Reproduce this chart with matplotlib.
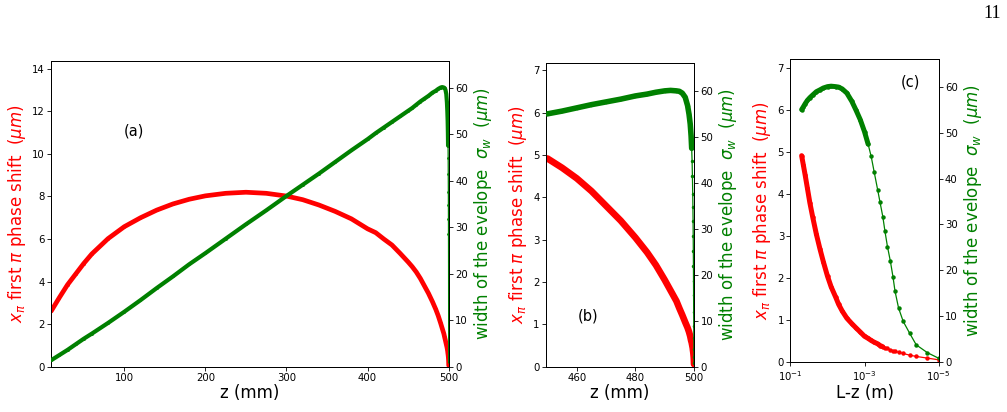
import numpy as np
import matplotlib
matplotlib.use("Agg")
import matplotlib.pyplot as plt

# ---- data ----
L_mm = 500.0
# distance to the end L - z, in mm
d_mm = [0.01, 0.02, 0.04, 0.06, 0.09, 0.12, 0.15, 0.17, 0.2, 0.24, 0.28, 0.32,
        0.38, 0.44, 0.55, 0.66, 0.8, 1.0, 1.3, 1.7, 2.2, 3.0, 4.0, 5.0, 6.0,
        8.0, 10, 13, 16, 20, 25, 30, 35, 40, 45, 50, 60, 70, 80, 90, 100, 120,
        140, 160, 180, 200, 225, 250, 275, 300, 320, 340, 360, 380, 400, 420,
        440, 450, 460, 470, 480, 490]
# x_pi, first pi phase shift (um)
x_pi = [0.06, 0.10, 0.14, 0.17, 0.21, 0.24, 0.26, 0.28, 0.30, 0.33, 0.35, 0.37,
        0.40, 0.44, 0.48, 0.52, 0.57, 0.62, 0.72, 0.82, 0.92, 1.05, 1.22, 1.38,
        1.55, 1.8, 2.05, 2.4, 2.7, 3.05, 3.45, 3.8, 4.15, 4.45, 4.7, 4.92, 5.33,
        5.72, 6.0, 6.3, 6.48, 6.95, 7.3, 7.6, 7.85, 8.02, 8.15, 8.2, 8.15, 8.03,
        7.87, 7.65, 7.36, 7.0, 6.58, 6.02, 5.3, 4.85, 4.35, 3.85, 3.25, 2.62]
# sigma_w, width of the envelope (um)
sigma_w = [0.9, 2.1, 3.8, 6.3, 8.9, 11.8, 15.5, 18.6, 22.0, 25.2, 28.5, 31.7,
           34.8, 37.5, 41.5, 44.8, 47.5, 50.2, 52.8, 54.9, 56.8, 58.6, 59.5,
           59.9, 60.0, 60.1, 60.0, 59.7, 59.3, 58.9, 58.2, 57.6, 57.0, 56.3,
           55.6, 55.0, 53.8, 52.6, 51.4, 50.2, 48.9, 46.5, 44.0, 41.5, 39.1,
           36.7, 33.6, 30.6, 27.5, 24.4, 22.0, 19.4, 16.9, 14.3, 11.8, 9.4, 7.1,
           6.0, 4.8, 3.6, 2.5, 1.4]

d = np.array(d_mm, dtype=float)
xp = np.array(x_pi)
sw = np.array(sigma_w)
z = L_mm - d
dense_g = d >= 0.8
dense_r = d >= 0.3
all_pts = d >= 0
inb = d <= 50

RED = "#ff0000"
GREEN = "#008000"
TICK_FS = 7.3
LAB_FS = 12

fig = plt.figure(figsize=(10.07, 4.12), dpi=100)


def style(ax):
    ax.tick_params(labelsize=TICK_FS, length=2.6, width=0.6, pad=2)
    for s in ax.spines.values():
        s.set_linewidth(0.7)


def draw(ax, x, y, mask, color, lw_thick, ms):
    ax.plot(x, y, "-", color=color, lw=0.9, marker="o", ms=ms,
            markeredgewidth=0, zorder=2)
    ax.plot(x[mask], y[mask], "-", color=color, lw=lw_thick,
            solid_capstyle="round", solid_joinstyle="round", zorder=3)


LEFT_LAB = r"$x_\pi$ first $\pi$ phase shift  ($\mu m$)"
RIGHT_LAB = r"width of the evelope  $\sigma_w$  ($\mu m$)"

# ---- panel (a) ----
axa = fig.add_axes([0.0506, 0.110, 0.395, 0.743])
axa2 = axa.twinx()
draw(axa, z, xp, all_pts, RED, 3.4, 2.0)
draw(axa2, z, sw, dense_g, GREEN, 3.0, 2.0)
axa.set_xlim(9.6, 500)
axa.set_ylim(0, 14.39)
axa2.set_ylim(0, 65.8)
axa.set_xticks([100, 200, 300, 400, 500])
axa.set_yticks([0, 2, 4, 6, 8, 10, 12, 14])
axa2.set_yticks([0, 10, 20, 30, 40, 50, 60])
axa.set_xlabel("z (mm)", fontsize=LAB_FS, labelpad=1)
axa.set_ylabel(LEFT_LAB, color=RED, fontsize=LAB_FS, labelpad=3)
axa2.set_ylabel(RIGHT_LAB, color=GREEN, fontsize=LAB_FS, labelpad=3)
axa.text(112, 11.1, "(a)", fontsize=10.5, ha="center", va="center")
style(axa); style(axa2)

# ---- panel (b) ----
axb = fig.add_axes([0.5422, 0.110, 0.147, 0.7364])
axb2 = axb.twinx()
draw(axb, z[inb], xp[inb], all_pts[inb], RED, 4.8, 2.5)
draw(axb2, z[inb], sw[inb], dense_g[inb], GREEN, 4.0, 2.5)
axb.set_xlim(449.5, 500)
axb.set_ylim(0, 7.17)
axb2.set_ylim(0, 66.0)
axb.set_xticks([460, 480, 500])
axb.set_yticks(range(0, 8))
axb2.set_yticks([0, 10, 20, 30, 40, 50, 60])
axb.set_xlabel("z (mm)", fontsize=LAB_FS, labelpad=1)
axb.set_ylabel(LEFT_LAB, color=RED, fontsize=LAB_FS, labelpad=3)
axb2.set_ylabel(RIGHT_LAB, color=GREEN, fontsize=LAB_FS, labelpad=3)
axb.text(463.7, 1.2, "(b)", fontsize=10.5, ha="center", va="center")
style(axb); style(axb2)

# ---- panel (c) ----
lz = d / 1000.0
axc = fig.add_axes([0.785, 0.1206, 0.147, 0.736])
axc2 = axc.twinx()
draw(axc, lz[inb], xp[inb], dense_r[inb], RED, 3.6, 3.2)
draw(axc2, lz[inb], sw[inb], dense_g[inb], GREEN, 3.6, 3.2)
axc.set_xscale("log")
axc.set_xlim(1e-1, 1e-5)
axc.set_xticks([1e-1, 1e-3, 1e-5])
axc.xaxis.set_minor_locator(matplotlib.ticker.NullLocator())
axc.set_ylim(0, 7.22)
axc2.set_ylim(0, 66.0)
axc.set_yticks(range(0, 8))
axc2.set_yticks([0, 10, 20, 30, 40, 50, 60])
axc.set_xlabel("L-z (m)", fontsize=LAB_FS, labelpad=1)
axc.set_ylabel(LEFT_LAB, color=RED, fontsize=LAB_FS, labelpad=3)
axc2.set_ylabel(RIGHT_LAB, color=GREEN, fontsize=LAB_FS, labelpad=3)
axc.text(0.81, 0.924, "(c)", transform=axc.transAxes, fontsize=10.5,
         ha="center", va="center")
style(axc); style(axc2)

# page number
fig.text(0.985, 0.968, "11", fontsize=13, family="Liberation Serif",
         ha="center", va="center")

fig.savefig("out.png", dpi=100)
